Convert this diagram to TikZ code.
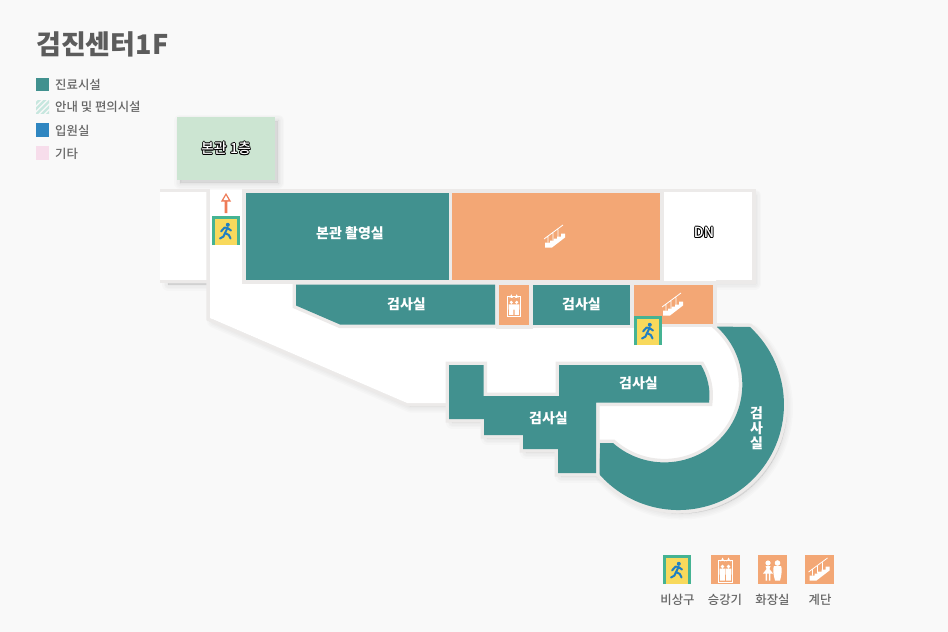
\documentclass[tikz,border=0pt]{standalone}
\usepackage{fontspec}
\setmainfont{Noto Sans CJK KR}
\newfontfamily\mediumkr{Noto Sans CJK KR Medium}
\usetikzlibrary{calc}
\definecolor{pagegrey}{HTML}{F9F9F9}
\definecolor{wallgrey}{HTML}{ECEAE9}
\definecolor{roomteal}{HTML}{41918F}
\definecolor{roomorange}{HTML}{F3A775}
\definecolor{annexgreen}{HTML}{CCE5D2}
\definecolor{hatchgreen}{HTML}{C7E7DF}
\definecolor{wardblue}{HTML}{2F86C1}
\definecolor{otherpink}{HTML}{F7DDEB}
\definecolor{signyellow}{HTML}{F8D95C}
\definecolor{signgreen}{HTML}{45B393}
\definecolor{runnerblue}{HTML}{1F7FC4}
\definecolor{arrowred}{HTML}{EE7B57}
\definecolor{labelgrey}{HTML}{666666}
\newcommand{\haloed}[1]{\leavevmode
	\rlap{\color{black}\raisebox{.8pt}{#1}}\rlap{\color{black}\raisebox{-.8pt}{#1}}%
	\rlap{\color{black}\kern.8pt #1}\rlap{\color{black}\kern-.8pt #1}%
	\rlap{\color{black}\kern.6pt\raisebox{.6pt}{#1}}\rlap{\color{black}\kern-.6pt\raisebox{.6pt}{#1}}%
	\rlap{\color{black}\kern.6pt\raisebox{-.6pt}{#1}}\rlap{\color{black}\kern-.6pt\raisebox{-.6pt}{#1}}%
	{\color{white}#1}}
\tikzset{
	roomlabel/.style={text=white,font=\fontsize{14}{15}\selectfont\bfseries,inner sep=0pt,align=center},
	halolabel/.style={font=\fontsize{14}{15}\selectfont\mediumkr,inner sep=0pt},
	keylabel/.style={text=labelgrey,font=\fontsize{12.4}{14}\selectfont\mediumkr,inner sep=0pt},
	walled/.style={preaction={draw=wallgrey,line width=7pt,line join=miter}},
	stairicon/.pic={
		\fill[white] (-10,-9) -- (-10,-6) -- (-5,-6) -- (-5,-4) -- (-1.5,-4) -- (-1.5,-2) -- (2,-2) -- (2,0) -- (6,0) -- (6,3)
			-- (10,3) -- (10,-1) -- (-3,-11) -- (-10,-11) -- cycle;
		\draw[white,line width=.8pt] (-11,-2.5) -- (8,11.5) (-7,0) -- (-7,-6) (-2,3.5) -- (-2,-4) (3,7) -- (3,-2);},
	lifticon/.pic={
		\draw[white,line width=1pt] (-7,-12.5) rectangle (7,9);
		\foreach \s in {-1,1}{
			\fill[white,shift={(\s*3,0)}] (0,3) circle (1.9) (-2.9,.8) rectangle (2.9,-5) (-2.4,-5) rectangle (2.4,-11);
			\draw[white,line width=.8pt,->,>=stealth] (\s*3,9) -- (\s*3,12);}},
	toileticon/.pic={
		\fill[white] (-4.5,6.5) circle (2.6) (5,6.5) circle (2.8);
		\fill[white] (-7,3.5) -- (-2,3.5) -- (-3,.5) -- (.5,-4) -- (-9.5,-4) -- (-6,.5) -- cycle
			(-6.8,-4) rectangle (-5.4,-11) (-3.6,-4) rectangle (-2.2,-11);
		\fill[white] (1.5,3.5) -- (8.5,3.5) .. controls (10,1) and (9,-6) .. (7.5,-11) -- (2.5,-11) .. controls (1,-6) and (0,1) .. (1.5,3.5) -- cycle;},
	runnericon/.pic={
		\fill[runnerblue] (1.8,6.2) circle (2);
		\draw[runnerblue,line width=2pt,line cap=round,line join=round]
			(-5,-.5) -- (-1.5,3.4) -- (1.5,3) -- (5,.5) (1.5,3) -- (-1,-2) -- (2.8,-4) -- (4.5,-7.5)
			(-1,-2) -- (-2.5,-5.5) -- (-6,-7.5);},
}
\newcommand{\exitsign}[2]{%
	\fill[signyellow] (#1,#2) rectangle ++(28,-29);
	\draw[signgreen,line width=3pt] (#1+1.5,#2-29) -- (#1+1.5,#2-1.5) -- (#1+26.5,#2-1.5) -- (#1+26.5,#2-29);
	\pic at (#1+14,#2-15) {runnericon};}
\newcommand{\softshadow}[1]{%
	\foreach \w in {0,3,6,9,12}{
		\path[fill=black,draw=black,opacity=.016,line join=round,line width=\w pt,shift={(3,-3.5)}] #1;}}
\begin{document}
\begin{tikzpicture}[x=1pt,y=1pt]
	\useasboundingbox (0,0) rectangle (948,-632);
	\fill[pagegrey] (0,0) rectangle (948,-632);
	
	% shadows of the floor
	\softshadow{(177,-117) rectangle (275,-179.5)}
	\softshadow{(165,-192) rectangle (204,-281)}
	\softshadow{(243,-192) rectangle (752,-280)}
	\softshadow{(210,-290) -- (210,-318) -- (407,-403) -- (450,-403) -- (450,-380) -- cycle}
	\softshadow{(750,-327) arc[start angle=47.3,end angle=-139.25,radius=105.5] -- (600,-400) -- cycle}
	\softshadow{(449,-365) -- (596,-365) -- (596,-473) -- (558,-473) -- (558,-449) -- (523,-449) -- (523,-435) -- (484,-435) -- (484,-419) -- (449,-419) -- cycle}
	
	% outer parts of the floor
	\fill[annexgreen] (177,-117) rectangle (275,-179.5);
	\path[fill=white,walled] (160,-192) -- (206.5,-192) -- (206.5,-279.5) -- (160,-279.5);
	\path[fill=white,walled] (664,-192) -- (752,-192) -- (752,-280) -- (664,-280) -- cycle;
	
	% corridor
	\draw[wallgrey,line width=3.5pt] (208.2,-190) -- (208.2,-319.2) -- (407,-404.8) -- (450,-404.8);
	\fill[white] (210,-190) -- (210,-318) -- (407,-403) -- (500,-403) -- (600,-443) -- (613,-443)
		arc[start angle=-131.3,end angle=48.1,radius=77.9] -- (716,-270) -- (243,-270) -- (243,-190) -- cycle;
	
	% rooms
	\path[fill=roomteal,walled] (750,-327) arc[start angle=47.3,end angle=-139.25,radius=105.5]
		-- (600,-443) -- (613,-443) arc[start angle=-131.3,end angle=48.1,radius=77.9] -- cycle;
	\path[fill=roomteal,walled] (449,-365) -- (483.5,-365) -- (483.5,-396) -- (559,-396) -- (559,-365) -- (701,-365)
		.. controls (707,-375) and (711,-389) .. (709,-402.5) -- (596,-402.5) -- (596,-473) -- (558,-473)
		-- (558,-449) -- (523,-449) -- (523,-435) -- (484,-435) -- (484,-419) -- (449,-419) -- cycle;
	\path[fill=roomteal,walled] (245.5,-192.5) rectangle (448.5,-280);
	\path[fill=roomorange,walled] (452,-192.5) rectangle (660,-280);
	\path[fill=roomteal,walled] (296,-284.5) -- (495,-284.5) -- (495,-324.5) -- (340,-324.5) -- (296,-305.5) -- cycle;
	\path[fill=roomorange,walled] (499,-284.5) rectangle (529,-325);
	\path[fill=roomteal,walled] (533,-284.5) rectangle (630,-324.5);
	\path[fill=roomorange,walled] (634,-284.5) rectangle (713,-323.5);
	
	% signs and arrow
	\fill[arrowred] (226,-193) -- (231,-201.5) -- (227.4,-201.5) -- (227.4,-213) -- (224.6,-213) -- (224.6,-201.5) -- (221,-201.5) -- cycle;
	\fill[white] (226,-195.5) -- (228.6,-200.2) -- (223.4,-200.2) -- cycle;
	\exitsign{212}{-216}
	\exitsign{634}{-316}
	\pic at (555,-236.5) {stairicon};
	\pic at (673,-304.5) {stairicon};
	\pic[scale=.9] at (514,-305) {lifticon};
	
	% labels on the plan
	\node[halolabel] (annex) at (226,-148.5) {\haloed{본관 1층}};
	\node[halolabel] (down) at (704,-232.5) {\haloed{DN}};
	\node[roomlabel] (xray) at (350,-233) {본관 촬영실};
	\node[roomlabel] (examA) at (406.5,-304.5) {검사실};
	\node[roomlabel] (examB) at (581.5,-304.5) {검사실};
	\node[roomlabel] (examC) at (638.5,-383) {검사실};
	\node[roomlabel] (examD) at (548.5,-418.5) {검사실};
	\node[roomlabel] (examE) at (756.5,-428) {검\\사\\실};
	
	% title and legend
	\node[anchor=west,inner sep=0pt,text=labelgrey!90!black,font=\fontsize{27}{30}\selectfont\bfseries] (title) at (36,-44) {검진센터1F};
	\fill[roomteal] (36,-77.5) rectangle (49,-91);
	\begin{scope}
		\clip (36,-100) rectangle (49,-113.5);
		\foreach \x in {18,23.5,...,50}{
			\draw[hatchgreen,line width=2.4pt] (\x+18,-98) -- (\x+1,-115);}
	\end{scope}
	\fill[wardblue] (36,-123) rectangle (49,-136.5);
	\fill[otherpink] (36,-146) rectangle (49,-160);
	\node[keylabel,anchor=west] (keyA) at (55,-84.5) {진료시설};
	\node[keylabel,anchor=west] (keyB) at (55,-106.5) {안내 및 편의시설};
	\node[keylabel,anchor=west] (keyC) at (55,-130.5) {입원실};
	\node[keylabel,anchor=west] (keyD) at (55,-153.5) {기타};
	
	% icon key
	\exitsign{663}{-555}
	\foreach \x in {711,758,805}{
		\fill[roomorange] (\x,-555) rectangle ++(29,-29);}
	\pic at (725.5,-569.5) {lifticon};
	\pic at (772.5,-569.5) {toileticon};
	\pic at (819.5,-569.5) {stairicon};
	\node[keylabel] (keyExit) at (677.5,-599.5) {비상구};
	\node[keylabel] (keyLift) at (725,-599.5) {승강기};
	\node[keylabel] (keyToilet) at (772.5,-599.5) {화장실};
	\node[keylabel] (keyStair) at (820,-599.5) {계단};
\end{tikzpicture}
\end{document}
